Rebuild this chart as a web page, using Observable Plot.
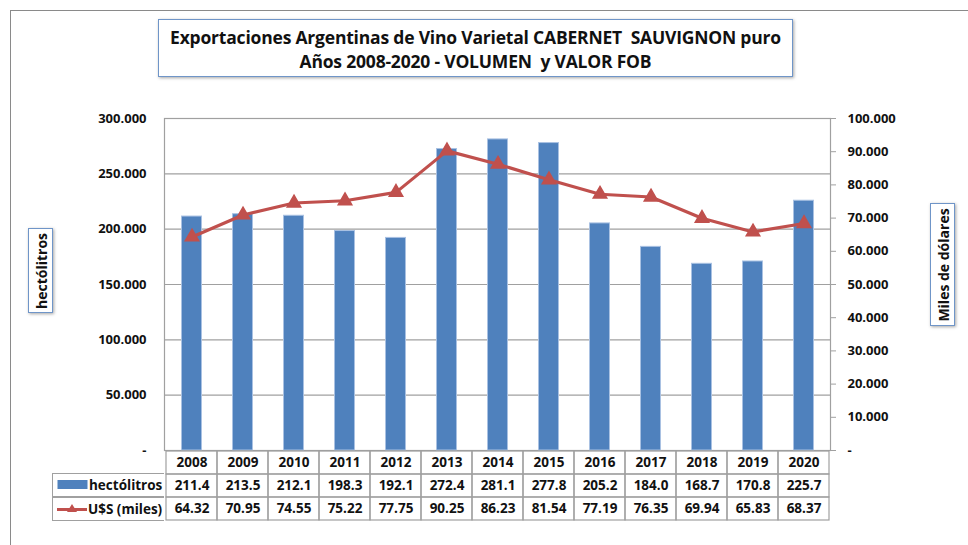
<!DOCTYPE html>
<html>
<head>
<meta charset="utf-8">
<script src="https://cdn.jsdelivr.net/npm/d3@7"></script>
<script src="https://cdn.jsdelivr.net/npm/@observablehq/plot@0.6"></script>
<style>
  body { margin: 0; background: #fff; }
  #wrap { position: relative; width: 968px; height: 545px; overflow: hidden; font-family: "Open Sans", "Noto Sans", sans-serif; }
  #wrap svg { position: absolute; left: 0; }
  .frame { position: absolute; left: 10px; top: 10px; right: -5px; bottom: -5px; border-left: 1.5px solid #8a8a8a; border-top: 1.5px solid #8a8a8a; }
  .title { position: absolute; left: 158px; top: 19px; width: 635px; height: 58px; border: 1px solid #6f95c8;
           box-shadow: 1px 1px 3px rgba(0,0,0,0.35); background: #fff; text-align: center; font-weight: 700;
           font-size: 17.5px; line-height: 24px; padding-top: 5px; box-sizing: border-box; color: #111; letter-spacing: -0.2px; }
  .vlabel { position: absolute; border: 1px solid #6f95c8; box-shadow: 1px 1px 3px rgba(0,0,0,0.35); background:#fff; box-sizing: border-box; }
  .vlabel span { position: absolute; left: 50%; top: 50%; transform: translate(-50%,-50%) rotate(-90deg); white-space: nowrap; font-weight: 700; font-size: 14px; color:#111; }
  .lcell { position: absolute; left: 52px; width: 112px; height: 23.5px; border: 1px solid #a0a0a0; border-right: none; box-sizing: border-box; font-weight: 700; font-size: 13.5px; line-height: 22px; color:#111; }
  .lcell .txt { position: absolute; left: 36px; top: 0; }
</style>
</head>
<body>
<div id="wrap">
  <div class="frame"></div>
</div>
<script>
const years = ["2008","2009","2010","2011","2012","2013","2014","2015","2016","2017","2018","2019","2020"];
const hectolitros = [211.4,213.5,212.1,198.3,192.1,272.4,281.1,277.8,205.2,184.0,168.7,170.8,225.7]; // miles de hl
const usdMiles = [64.32,70.95,74.55,75.22,77.75,90.25,86.23,81.54,77.19,76.35,69.94,65.83,68.37]; // millones U$S
const leftTicks = [0,50000,100000,150000,200000,250000,300000];
const rightTicks = [0,10000,20000,30000,40000,50000,60000,70000,80000,90000,100000];
const titleLines = ["Exportaciones Argentinas de Vino Varietal CABERNET  SAUVIGNON puro", "Años 2008-2020 - VOLUMEN  y VALOR FOB"];

const BLUE = "#4F81BD", RED = "#C0504D", GRID = "#a0a0a0";
const ratio = 3; // left max 300.000 / right max 100.000
const fmt = d => d === 0 ? "-" : d3.format(",")(d).replace(/,/g, ".");

const data = years.map((y, i) => ({year: y, hl: hectolitros[i] * 1000, usd: usdMiles[i] * 1000}));
const font = "'Open Sans', 'Noto Sans', sans-serif";
const wrap = document.getElementById("wrap");

const chart = Plot.plot({
  width: 968, height: 462,
  marginLeft: 164, marginRight: 138, marginTop: 118, marginBottom: 12,
  style: {fontFamily: font, fontSize: "13px", fontWeight: 700, color: "#111", background: "transparent"},
  x: {type: "band", domain: years, padding: 0, axis: null},
  y: {domain: [0, 300000], axis: null},
  marks: [
    Plot.ruleY(leftTicks, {stroke: GRID, strokeWidth: 1.2}),
    Plot.frame({stroke: GRID, strokeWidth: 1.2}),
    Plot.axisY({anchor: "left", ticks: leftTicks, tickFormat: fmt, tickSize: 0, tickPadding: 18, label: null, fontSize: 13, fontWeight: 700}),
    Plot.axisY({anchor: "right", ticks: rightTicks.map(d => d * ratio), tickFormat: d => fmt(d / ratio), tickSize: 5, tickPadding: 12, stroke: GRID, label: null, fontSize: 13, fontWeight: 700}),
    Plot.barY(data, {x: "year", y: "hl", fill: BLUE, stroke: "#a9c1e2", strokeWidth: 1, insetLeft: 15.5, insetRight: 15.5}),
    Plot.line(data, {x: "year", y: d => d.usd * ratio, stroke: RED, strokeWidth: 3.2}),
    Plot.dot(data, {x: "year", y: d => d.usd * ratio, symbol: "triangle", fill: RED, stroke: RED, r: 5})
  ]
});
chart.style.top = "0px";
wrap.appendChild(chart);

// data table below the chart
const rows = ["year", "hl", "usd"];
const cells = [];
data.forEach(d => {
  cells.push({year: d.year, row: "year", text: d.year});
  cells.push({year: d.year, row: "hl", text: (d.hl / 1000).toFixed(1)});
  cells.push({year: d.year, row: "usd", text: (d.usd / 1000).toFixed(2)});
});
const table = Plot.plot({
  width: 968, height: 71,
  marginLeft: 164, marginRight: 138, marginTop: 0.5, marginBottom: 0.5,
  style: {fontFamily: font, fontSize: "13.5px", fontWeight: 700, color: "#111", background: "transparent"},
  x: {type: "band", domain: years, padding: 0, axis: null},
  y: {type: "band", domain: rows, padding: 0, axis: null},
  marks: [
    Plot.cell(cells, {x: "year", y: "row", fill: "none", stroke: GRID, strokeWidth: 1.2}),
    Plot.text(cells, {x: "year", y: "row", text: "text", fill: "#111", fontSize: 13.5, fontWeight: 700})
  ]
});
table.style.top = "450px";
wrap.appendChild(table);

// row labels with legend keys
const lab1 = document.createElement("div");
lab1.className = "lcell"; lab1.style.top = "473px";
lab1.innerHTML = `<svg width="32" height="22" style="position:absolute;left:4px;top:0"><rect x="0.5" y="6" width="30" height="9" fill="${BLUE}"/></svg><span class="txt">hectólitros</span>`;
wrap.appendChild(lab1);
const lab2 = document.createElement("div");
lab2.className = "lcell"; lab2.style.top = "496.5px"; lab2.style.height = "24px";
lab2.innerHTML = `<svg width="34" height="22" style="position:absolute;left:3px;top:0"><line x1="1" x2="31" y1="11.5" y2="11.5" stroke="${RED}" stroke-width="3"/><path d="M16,6 L21,14 L11,14 Z" fill="${RED}"/></svg><span class="txt" style="left:35px">U$S (miles)</span>`;
wrap.appendChild(lab2);

// title
const t = document.createElement("div");
t.className = "title";
t.innerHTML = titleLines.map(s => `<div style="white-space:pre">${s}</div>`).join("");
wrap.appendChild(t);

// axis titles
const yl = document.createElement("div");
yl.className = "vlabel";
Object.assign(yl.style, {left: "28px", top: "228px", width: "25px", height: "85px"});
yl.innerHTML = "<span>hectólitros</span>";
wrap.appendChild(yl);
const yr = document.createElement("div");
yr.className = "vlabel";
Object.assign(yr.style, {left: "930px", top: "203px", width: "25px", height: "123px"});
yr.innerHTML = "<span>Miles de dólares</span>";
wrap.appendChild(yr);
</script>
</body>
</html>
